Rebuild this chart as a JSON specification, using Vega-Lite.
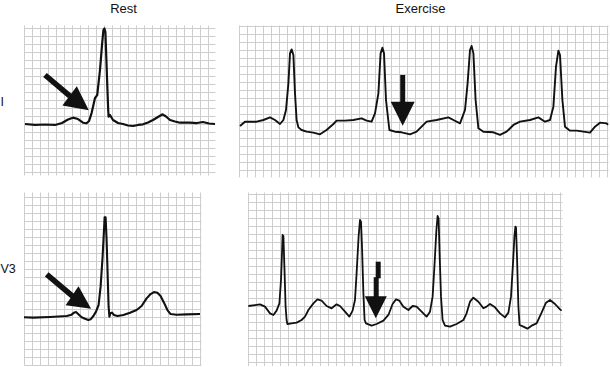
{
  "$schema": "https://vega.github.io/schema/vega-lite/v6.json",
  "padding": {"left": 0, "top": 3, "right": 0, "bottom": 0},
  "spacing": 15,
  "datasets": {
    "restI": [{"t":0.005,"mv":0},{"t":0.055,"mv":-0.012},{"t":0.105,"mv":-0.006},{"t":0.155,"mv":-0.012},{"t":0.19,"mv":0.012},{"t":0.22,"mv":0.056},{"t":0.245,"mv":0.079},{"t":0.27,"mv":0.062},{"t":0.295,"mv":0.016},{"t":0.313,"mv":0.009},{"t":0.325,"mv":0.037},{"t":0.338,"mv":0.137},{"t":0.355,"mv":0.325},{"t":0.366,"mv":0.362},{"t":0.38,"mv":0.675},{"t":0.39,"mv":0.987},{"t":0.397,"mv":1.175},{"t":0.402,"mv":1.194},{"t":0.407,"mv":1.15},{"t":0.412,"mv":0.8},{"t":0.416,"mv":0.512},{"t":0.421,"mv":0.175},{"t":0.423,"mv":0.091},{"t":0.43,"mv":0.112},{"t":0.445,"mv":0.05},{"t":0.47,"mv":0.012},{"t":0.495,"mv":0},{"t":0.52,"mv":-0.019},{"t":0.545,"mv":-0.025},{"t":0.57,"mv":-0.012},{"t":0.595,"mv":-0.004},{"t":0.62,"mv":0.019},{"t":0.645,"mv":0.05},{"t":0.67,"mv":0.087},{"t":0.693,"mv":0.121},{"t":0.71,"mv":0.094},{"t":0.73,"mv":0.05},{"t":0.755,"mv":0.031},{"t":0.78,"mv":0.016},{"t":0.83,"mv":0.016},{"t":0.865,"mv":0.012},{"t":0.895,"mv":0.025},{"t":0.925,"mv":0.006},{"t":0.955,"mv":0}],
    "exerciseI": [{"t":0.005,"mv":-0.05},{"t":0.03,"mv":0.004},{"t":0.088,"mv":0.004},{"t":0.122,"mv":0.025},{"t":0.155,"mv":0.058},{"t":0.18,"mv":0.025},{"t":0.205,"mv":-0.025},{"t":0.222,"mv":0.025},{"t":0.235,"mv":0.15},{"t":0.247,"mv":0.483},{"t":0.255,"mv":0.858},{"t":0.263,"mv":0.908},{"t":0.272,"mv":0.838},{"t":0.28,"mv":0.358},{"t":0.288,"mv":0.025},{"t":0.297,"mv":-0.067},{"t":0.313,"mv":-0.1},{"t":0.338,"mv":-0.121},{"t":0.372,"mv":-0.133},{"t":0.405,"mv":-0.154},{"t":0.438,"mv":-0.1},{"t":0.472,"mv":-0.025},{"t":0.488,"mv":0.017},{"t":0.53,"mv":0.017},{"t":0.572,"mv":0.025},{"t":0.613,"mv":0.046},{"t":0.638,"mv":0.017},{"t":0.663,"mv":0.004},{"t":0.68,"mv":0.108},{"t":0.697,"mv":0.358},{"t":0.708,"mv":0.858},{"t":0.717,"mv":0.929},{"t":0.725,"mv":0.858},{"t":0.735,"mv":0.275},{"t":0.752,"mv":-0.1},{"t":0.78,"mv":-0.121},{"t":0.813,"mv":-0.129},{"t":0.855,"mv":-0.154},{"t":0.888,"mv":-0.121},{"t":0.913,"mv":-0.058},{"t":0.938,"mv":0.004},{"t":0.988,"mv":0.025},{"t":1.047,"mv":0.058},{"t":1.072,"mv":0.025},{"t":1.105,"mv":-0.017},{"t":1.13,"mv":0.15},{"t":1.143,"mv":0.483},{"t":1.155,"mv":0.9},{"t":1.163,"mv":0.95},{"t":1.172,"mv":0.858},{"t":1.183,"mv":0.275},{"t":1.197,"mv":-0.079},{"t":1.222,"mv":-0.121},{"t":1.272,"mv":-0.129},{"t":1.305,"mv":-0.162},{"t":1.338,"mv":-0.121},{"t":1.372,"mv":-0.037},{"t":1.405,"mv":0.004},{"t":1.455,"mv":0.025},{"t":1.497,"mv":0.058},{"t":1.53,"mv":0.004},{"t":1.555,"mv":0.025},{"t":1.572,"mv":0.192},{"t":1.585,"mv":0.692},{"t":1.597,"mv":0.892},{"t":1.605,"mv":0.838},{"t":1.617,"mv":0.275},{"t":1.63,"mv":-0.058},{"t":1.655,"mv":-0.108},{"t":1.688,"mv":-0.108},{"t":1.722,"mv":-0.121},{"t":1.755,"mv":-0.133},{"t":1.78,"mv":-0.058},{"t":1.805,"mv":-0.008},{"t":1.838,"mv":-0.017},{"t":1.845,"mv":-0.037}],
    "restV3": [{"t":0,"mv":-0.004},{"t":0.047,"mv":-0.008},{"t":0.13,"mv":0},{"t":0.213,"mv":0.012},{"t":0.238,"mv":0.029},{"t":0.25,"mv":0.054},{"t":0.26,"mv":0.062},{"t":0.272,"mv":0.033},{"t":0.288,"mv":-0.004},{"t":0.305,"mv":-0.021},{"t":0.322,"mv":-0.037},{"t":0.333,"mv":-0.029},{"t":0.347,"mv":0.012},{"t":0.36,"mv":0.067},{"t":0.373,"mv":0.15},{"t":0.383,"mv":0.379},{"t":0.393,"mv":0.754},{"t":0.4,"mv":1.087},{"t":0.403,"mv":1.246},{"t":0.408,"mv":1.246},{"t":0.413,"mv":0.962},{"t":0.418,"mv":0.546},{"t":0.423,"mv":0.129},{"t":0.427,"mv":0.004},{"t":0.432,"mv":0.046},{"t":0.44,"mv":0.054},{"t":0.45,"mv":0.025},{"t":0.467,"mv":0.012},{"t":0.497,"mv":0.025},{"t":0.53,"mv":0.054},{"t":0.563,"mv":0.087},{"t":0.588,"mv":0.137},{"t":0.613,"mv":0.233},{"t":0.633,"mv":0.287},{"t":0.65,"mv":0.312},{"t":0.667,"mv":0.304},{"t":0.683,"mv":0.262},{"t":0.7,"mv":0.179},{"t":0.717,"mv":0.087},{"t":0.733,"mv":0.037},{"t":0.763,"mv":0.029},{"t":0.813,"mv":0.033},{"t":0.88,"mv":0.037}],
    "exerciseV3": [{"t":0.002,"mv":0},{"t":0.035,"mv":0.012},{"t":0.06,"mv":0.021},{"t":0.085,"mv":-0.008},{"t":0.11,"mv":-0.092},{"t":0.127,"mv":-0.112},{"t":0.143,"mv":-0.058},{"t":0.157,"mv":0.033},{"t":0.165,"mv":0.325},{"t":0.17,"mv":0.658},{"t":0.173,"mv":0.888},{"t":0.177,"mv":0.875},{"t":0.182,"mv":0.49},{"t":0.188,"mv":-0.008},{"t":0.193,"mv":-0.175},{"t":0.197,"mv":-0.225},{"t":0.218,"mv":-0.217},{"t":0.243,"mv":-0.208},{"t":0.268,"mv":-0.175},{"t":0.285,"mv":-0.133},{"t":0.302,"mv":-0.05},{"t":0.327,"mv":0.033},{"t":0.347,"mv":0.083},{"t":0.368,"mv":0.067},{"t":0.393,"mv":0},{"t":0.418,"mv":-0.029},{"t":0.443,"mv":0.021},{"t":0.46,"mv":0},{"t":0.485,"mv":-0.071},{"t":0.507,"mv":-0.133},{"t":0.523,"mv":-0.058},{"t":0.535,"mv":0.075},{"t":0.543,"mv":0.408},{"t":0.553,"mv":0.867},{"t":0.56,"mv":1.075},{"t":0.565,"mv":1.054},{"t":0.57,"mv":0.742},{"t":0.577,"mv":0.158},{"t":0.583,"mv":-0.175},{"t":0.59,"mv":-0.217},{"t":0.618,"mv":-0.246},{"t":0.643,"mv":-0.225},{"t":0.677,"mv":-0.183},{"t":0.702,"mv":-0.112},{"t":0.723,"mv":0.025},{"t":0.74,"mv":0.083},{"t":0.757,"mv":0.067},{"t":0.777,"mv":-0.008},{"t":0.802,"mv":-0.05},{"t":0.823,"mv":0},{"t":0.843,"mv":-0.008},{"t":0.868,"mv":-0.071},{"t":0.893,"mv":-0.133},{"t":0.91,"mv":-0.071},{"t":0.923,"mv":0.117},{"t":0.933,"mv":0.533},{"t":0.942,"mv":0.95},{"t":0.948,"mv":1.125},{"t":0.953,"mv":1.096},{"t":0.958,"mv":0.658},{"t":0.965,"mv":0.117},{"t":0.973,"mv":-0.175},{"t":0.985,"mv":-0.246},{"t":1.01,"mv":-0.258},{"t":1.043,"mv":-0.225},{"t":1.077,"mv":-0.175},{"t":1.093,"mv":-0.092},{"t":1.11,"mv":0.054},{"t":1.127,"mv":0.104},{"t":1.152,"mv":0.054},{"t":1.177,"mv":-0.029},{"t":1.193,"mv":-0.008},{"t":1.21,"mv":0.025},{"t":1.235,"mv":-0.017},{"t":1.26,"mv":-0.092},{"t":1.285,"mv":-0.142},{"t":1.302,"mv":-0.083},{"t":1.315,"mv":0.117},{"t":1.325,"mv":0.533},{"t":1.332,"mv":0.867},{"t":1.337,"mv":0.992},{"t":1.34,"mv":0.983},{"t":1.345,"mv":0.617},{"t":1.352,"mv":-0.008},{"t":1.358,"mv":-0.237},{"t":1.377,"mv":-0.258},{"t":1.397,"mv":-0.283},{"t":1.418,"mv":-0.246},{"t":1.443,"mv":-0.217},{"t":1.468,"mv":-0.083},{"t":1.49,"mv":0.042},{"t":1.51,"mv":0.075},{"t":1.535,"mv":0.025},{"t":1.56,"mv":-0.042},{"t":1.568,"mv":-0.058}],
    "shafts": [
      {"panel":"restI","t":0.105,"mv":0.6125,"t2":0.23,"mv2":0.3475},
      {"panel":"exerciseI","t":0.8185,"mv":0.5875,"t2":0.8185,"mv2":0.24},
      {"panel":"restV3","t":0.1135,"mv":0.534,"t2":0.2425,"mv2":0.26},
      {"panel":"exerciseV3","t":0.651,"mv":0.554,"t2":0.651,"mv2":0.346},
      {"panel":"exerciseV3","t":0.641,"mv":0.36,"t2":0.641,"mv2":0.1}
    ],
    "heads": [
      {"panel":"restI","t":0.276,"mv":0.261},
      {"panel":"exerciseI","t":0.8185,"mv":0.102},
      {"panel":"restV3","t":0.288,"mv":0.185},
      {"panel":"exerciseV3","t":0.639,"mv":-0.016}
    ]
  },
  "vconcat": [
    {
      "bounds": "flush",
      "spacing": 24,
      "hconcat": [
        {
          "width": 191, "height": 150,
          "title": {"text": "Rest", "dx": 4, "offset": 9},
          "resolve": {"axis": {"x": "independent", "y": "independent"}},
          "layer": [
            {
              "data": {"name": "restI"},
              "mark": {"type": "line", "color": "#111111", "strokeWidth": 2.2, "strokeJoin": "round"},
              "encoding": {
                "x": {"field": "t", "type": "quantitative", "scale": {"domain": [0, 0.955], "nice": false, "zero": false},
                      "axis": {"orient": "bottom", "title": null, "gridColor": "#cdcdcd", "values": [0,0.04,0.08,0.12,0.16,0.2,0.24,0.28,0.32,0.36,0.4,0.44,0.48,0.52,0.56,0.6,0.64,0.68,0.72,0.76,0.8,0.84,0.88,0.92]}},
                "y": {"field": "mv", "type": "quantitative", "scale": {"domain": [-0.6375, 1.2375], "nice": false, "zero": false},
                      "axis": {"orient": "left", "gridColor": "#cdcdcd", "values": [-0.6,-0.5,-0.4,-0.3,-0.2,-0.1,0,0.1,0.2,0.3,0.4,0.5,0.6,0.7,0.8,0.9,1,1.1,1.2],
                               "title": "\u00a0I", "titleAngle": 0, "titleAlign": "left", "titleBaseline": "alphabetic", "titleX": -24, "titleY": 80,
                               "titleFont": "Liberation Sans", "titleFontSize": 12.5, "titleFontWeight": "normal", "titleColor": "#111111"}}
              }
            },
            {
              "data": {"name": "shafts"},
              "transform": [{"filter": "datum.panel === 'restI'"}],
              "mark": {"type": "rule", "color": "#111111", "strokeWidth": 5.5, "strokeCap": "butt"},
              "encoding": {
                "x": {"field": "t", "type": "quantitative", "scale": {"domain": [0, 0.955], "nice": false, "zero": false},
                      "axis": {"orient": "top", "title": null, "gridColor": "#959595", "values": [0,0.2,0.4,0.6,0.8]}},
                "y": {"field": "mv", "type": "quantitative", "scale": {"domain": [-0.6375, 1.2375], "nice": false, "zero": false},
                      "axis": {"orient": "right", "title": null, "gridColor": "#959595", "values": [-0.5,0,0.5,1]}},
                "x2": {"field": "t2"},
                "y2": {"field": "mv2"}
              }
            },
            {
              "data": {"name": "heads"},
              "transform": [{"filter": "datum.panel === 'restI'"}],
              "mark": {"type": "point", "shape": "M-1,-1L1,-1L0,1Z", "filled": true, "opacity": 1, "color": "#111111", "size": 576, "angle": -53},
              "encoding": {
                "x": {"field": "t", "type": "quantitative", "scale": {"domain": [0, 0.955], "nice": false, "zero": false}, "axis": null},
                "y": {"field": "mv", "type": "quantitative", "scale": {"domain": [-0.6375, 1.2375], "nice": false, "zero": false}, "axis": null}
              }
            }
          ]
        },
        {
          "width": 369, "height": 152,
          "title": {"text": "Exercise", "dx": -3, "offset": 9},
          "resolve": {"axis": {"x": "independent", "y": "independent"}},
          "layer": [
            {
              "data": {"name": "exerciseI"},
              "mark": {"type": "line", "color": "#111111", "strokeWidth": 1.9, "strokeJoin": "round"},
              "encoding": {
                "x": {"field": "t", "type": "quantitative", "scale": {"domain": [0, 1.845], "nice": false, "zero": false},
                      "axis": {"orient": "bottom", "title": null, "gridColor": "#cdcdcd", "values": [0,0.04,0.08,0.12,0.16,0.2,0.24,0.28,0.32,0.36,0.4,0.44,0.48,0.52,0.56,0.6,0.64,0.68,0.72,0.76,0.8,0.84,0.88,0.92,0.96,1,1.04,1.08,1.12,1.16,1.2,1.24,1.28,1.32,1.36,1.4,1.44,1.48,1.52,1.56,1.6,1.64,1.68,1.72,1.76,1.8,1.84]}},
                "y": {"field": "mv", "type": "quantitative", "scale": {"domain": [-0.6875, 1.2125], "nice": false, "zero": false},
                      "axis": {"orient": "left", "title": null, "gridColor": "#cdcdcd", "values": [-0.6,-0.5,-0.4,-0.3,-0.2,-0.1,0,0.1,0.2,0.3,0.4,0.5,0.6,0.7,0.8,0.9,1,1.1,1.2]}}
              }
            },
            {
              "data": {"name": "shafts"},
              "transform": [{"filter": "datum.panel === 'exerciseI'"}],
              "mark": {"type": "rule", "color": "#111111", "strokeWidth": 5, "strokeCap": "butt"},
              "encoding": {
                "x": {"field": "t", "type": "quantitative", "scale": {"domain": [0, 1.845], "nice": false, "zero": false},
                      "axis": {"orient": "top", "title": null, "gridColor": "#959595", "values": [0,0.2,0.4,0.6,0.8,1,1.2,1.4,1.6,1.8]}},
                "y": {"field": "mv", "type": "quantitative", "scale": {"domain": [-0.6875, 1.2125], "nice": false, "zero": false},
                      "axis": {"orient": "right", "title": null, "gridColor": "#959595", "values": [-0.5,0,0.5,1]}},
                "x2": {"field": "t2"},
                "y2": {"field": "mv2"}
              }
            },
            {
              "data": {"name": "heads"},
              "transform": [{"filter": "datum.panel === 'exerciseI'"}],
              "mark": {"type": "point", "shape": "M-1,-1L1,-1L0,1Z", "filled": true, "opacity": 1, "color": "#111111", "size": 576, "angle": 0},
              "encoding": {
                "x": {"field": "t", "type": "quantitative", "scale": {"domain": [0, 1.845], "nice": false, "zero": false}, "axis": null},
                "y": {"field": "mv", "type": "quantitative", "scale": {"domain": [-0.6875, 1.2125], "nice": false, "zero": false}, "axis": null}
              }
            }
          ]
        }
      ]
    },
    {
      "bounds": "flush",
      "spacing": 47,
      "hconcat": [
        {
          "width": 177, "height": 173,
          "resolve": {"axis": {"x": "independent", "y": "independent"}},
          "layer": [
            {
              "data": {"name": "restV3"},
              "mark": {"type": "line", "color": "#111111", "strokeWidth": 2.1, "strokeJoin": "round"},
              "encoding": {
                "x": {"field": "t", "type": "quantitative", "scale": {"domain": [0, 0.885], "nice": false, "zero": false},
                      "axis": {"orient": "bottom", "title": null, "gridColor": "#cdcdcd", "values": [0,0.04,0.08,0.12,0.16,0.2,0.24,0.28,0.32,0.36,0.4,0.44,0.48,0.52,0.56,0.6,0.64,0.68,0.72,0.76,0.8,0.84,0.88]}},
                "y": {"field": "mv", "type": "quantitative", "scale": {"domain": [-0.6, 1.5625], "nice": false, "zero": false},
                      "axis": {"orient": "left", "gridColor": "#cdcdcd", "values": [-0.6,-0.5,-0.4,-0.3,-0.2,-0.1,0,0.1,0.2,0.3,0.4,0.5,0.6,0.7,0.8,0.9,1,1.1,1.2,1.3,1.4,1.5],
                               "title": "V3", "titleAngle": 0, "titleAlign": "left", "titleBaseline": "alphabetic", "titleX": -24, "titleY": 80,
                               "titleFont": "Liberation Sans", "titleFontSize": 12.5, "titleFontWeight": "normal", "titleColor": "#111111"}}
              }
            },
            {
              "data": {"name": "shafts"},
              "transform": [{"filter": "datum.panel === 'restV3'"}],
              "mark": {"type": "rule", "color": "#111111", "strokeWidth": 5.5, "strokeCap": "butt"},
              "encoding": {
                "x": {"field": "t", "type": "quantitative", "scale": {"domain": [0, 0.885], "nice": false, "zero": false},
                      "axis": {"orient": "top", "title": null, "gridColor": "#959595", "values": [0,0.2,0.4,0.6,0.8]}},
                "y": {"field": "mv", "type": "quantitative", "scale": {"domain": [-0.6, 1.5625], "nice": false, "zero": false},
                      "axis": {"orient": "right", "title": null, "gridColor": "#959595", "values": [-0.5,0,0.5,1,1.5]}},
                "x2": {"field": "t2"},
                "y2": {"field": "mv2"}
              }
            },
            {
              "data": {"name": "heads"},
              "transform": [{"filter": "datum.panel === 'restV3'"}],
              "mark": {"type": "point", "shape": "M-1,-1L1,-1L0,1Z", "filled": true, "opacity": 1, "color": "#111111", "size": 529, "angle": -56},
              "encoding": {
                "x": {"field": "t", "type": "quantitative", "scale": {"domain": [0, 0.885], "nice": false, "zero": false}, "axis": null},
                "y": {"field": "mv", "type": "quantitative", "scale": {"domain": [-0.6, 1.5625], "nice": false, "zero": false}, "axis": null}
              }
            }
          ]
        },
        {
          "width": 314, "height": 174,
          "resolve": {"axis": {"x": "independent", "y": "independent"}},
          "layer": [
            {
              "data": {"name": "exerciseV3"},
              "mark": {"type": "line", "color": "#111111", "strokeWidth": 1.8, "strokeJoin": "round"},
              "encoding": {
                "x": {"field": "t", "type": "quantitative", "scale": {"domain": [0, 1.57], "nice": false, "zero": false},
                      "axis": {"orient": "bottom", "title": null, "gridColor": "#cdcdcd", "values": [0,0.04,0.08,0.12,0.16,0.2,0.24,0.28,0.32,0.36,0.4,0.44,0.48,0.52,0.56,0.6,0.64,0.68,0.72,0.76,0.8,0.84,0.88,0.92,0.96,1,1.04,1.08,1.12,1.16,1.2,1.24,1.28,1.32,1.36,1.4,1.44,1.48,1.52,1.56]}},
                "y": {"field": "mv", "type": "quantitative", "scale": {"domain": [-0.75, 1.425], "nice": false, "zero": false},
                      "axis": {"orient": "left", "title": null, "gridColor": "#cdcdcd", "values": [-0.7,-0.6,-0.5,-0.4,-0.3,-0.2,-0.1,0,0.1,0.2,0.3,0.4,0.5,0.6,0.7,0.8,0.9,1,1.1,1.2,1.3,1.4]}}
              }
            },
            {
              "data": {"name": "shafts"},
              "transform": [{"filter": "datum.panel === 'exerciseV3'"}],
              "mark": {"type": "rule", "color": "#111111", "strokeWidth": 5, "strokeCap": "butt"},
              "encoding": {
                "x": {"field": "t", "type": "quantitative", "scale": {"domain": [0, 1.57], "nice": false, "zero": false},
                      "axis": {"orient": "top", "title": null, "gridColor": "#959595", "values": [0,0.2,0.4,0.6,0.8,1,1.2,1.4]}},
                "y": {"field": "mv", "type": "quantitative", "scale": {"domain": [-0.75, 1.425], "nice": false, "zero": false},
                      "axis": {"orient": "right", "title": null, "gridColor": "#959595", "values": [-0.5,0,0.5,1]}},
                "x2": {"field": "t2"},
                "y2": {"field": "mv2"}
              }
            },
            {
              "data": {"name": "heads"},
              "transform": [{"filter": "datum.panel === 'exerciseV3'"}],
              "mark": {"type": "point", "shape": "M-1,-1L1,-1L0,1Z", "filled": true, "opacity": 1, "color": "#111111", "size": 484, "angle": 0},
              "encoding": {
                "x": {"field": "t", "type": "quantitative", "scale": {"domain": [0, 1.57], "nice": false, "zero": false}, "axis": null},
                "y": {"field": "mv", "type": "quantitative", "scale": {"domain": [-0.75, 1.425], "nice": false, "zero": false}, "axis": null}
              }
            }
          ]
        }
      ]
    }
  ],
  "config": {
    "view": {"stroke": null},
    "font": "Liberation Sans",
    "axis": {"labels": false, "ticks": false, "domain": false, "grid": true, "gridWidth": 1, "gridOpacity": 1},
    "title": {"font": "Liberation Sans", "fontSize": 13, "fontWeight": "normal", "color": "#111111", "baseline": "alphabetic", "anchor": "middle", "frame": "group"}
  }
}
